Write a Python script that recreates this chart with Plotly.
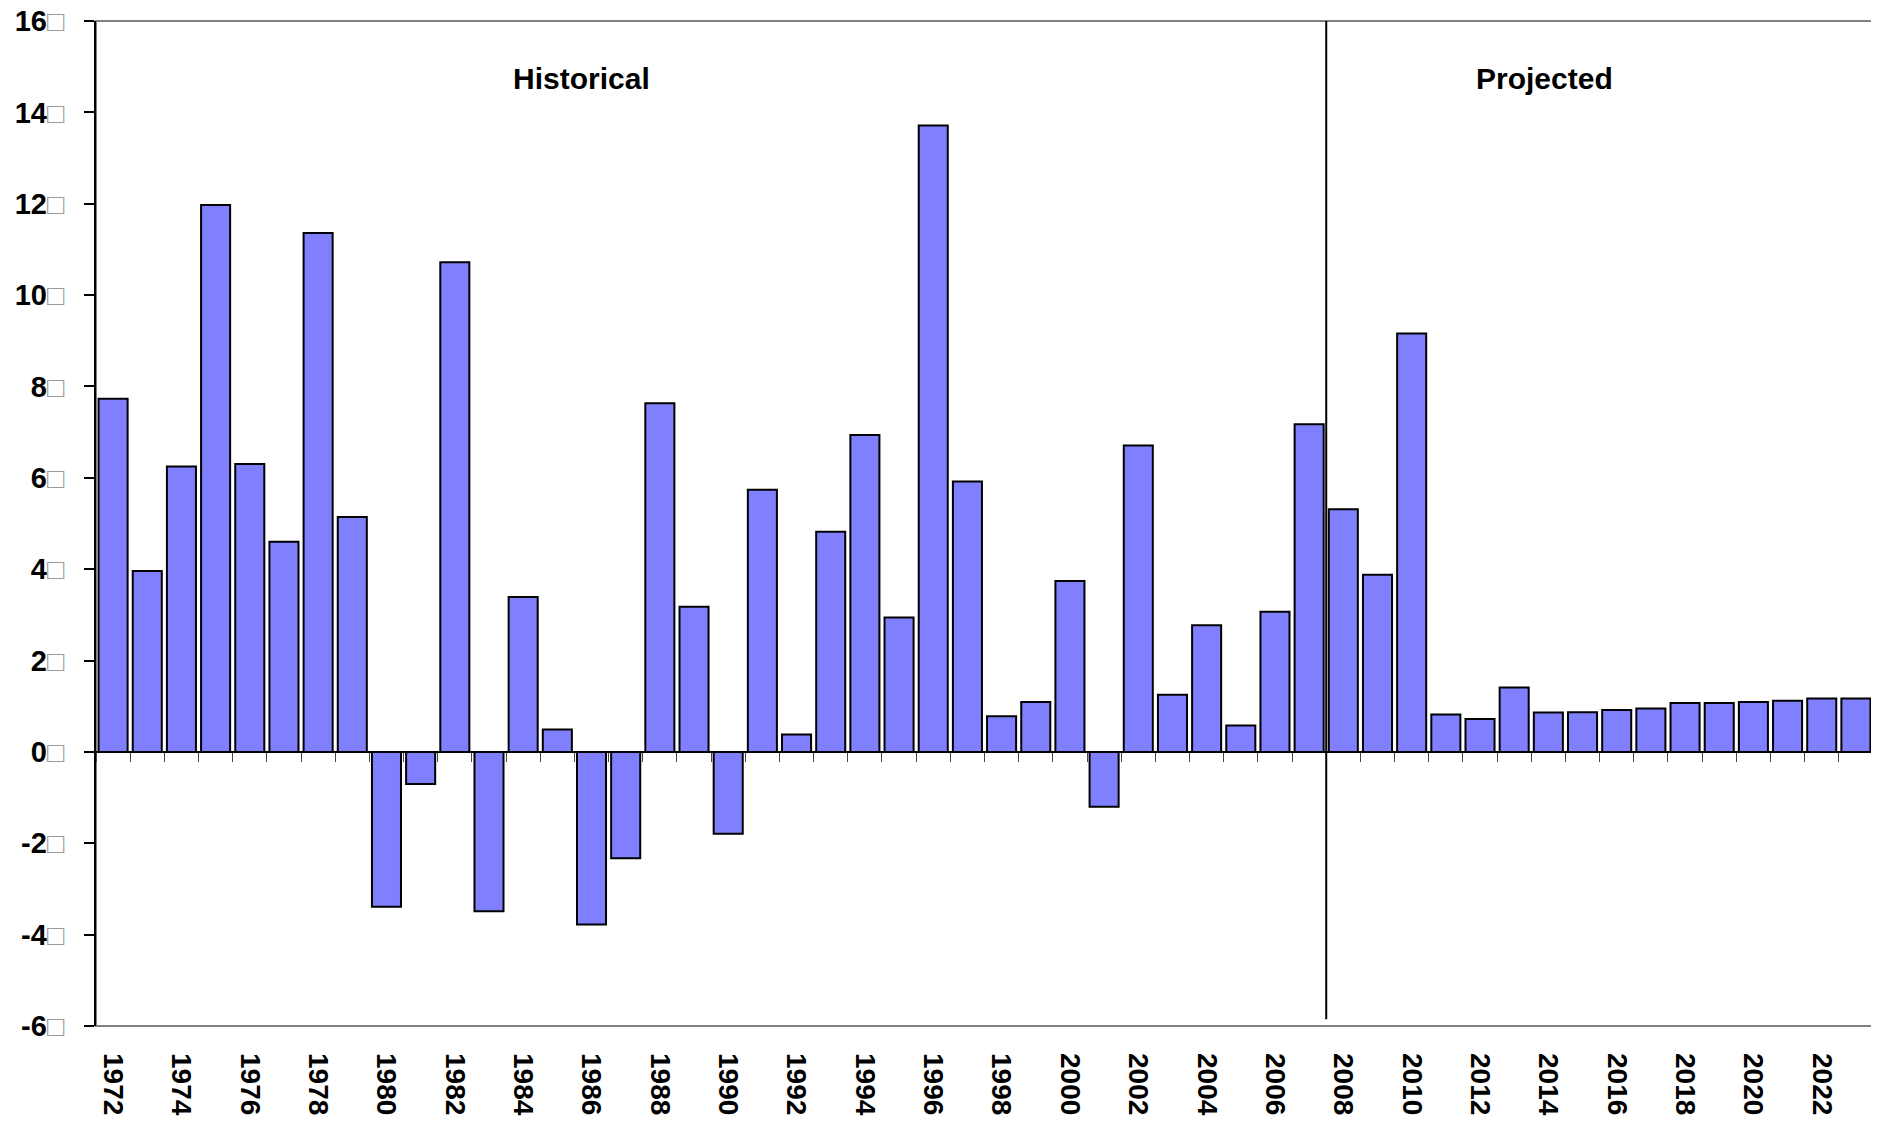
import plotly.graph_objects as go

# ── Data ────────────────────────────────────────────────────────────────────
YEARS = list(range(1972, 2024))
HISTORICAL = [7.73, 3.96, 6.25, 11.97, 6.30, 4.60, 11.36, 5.14, -3.39, -0.70,
              10.72, -3.49, 3.39, 0.49, -3.78, -2.33, 7.63, 3.18, -1.79, 5.74,
              0.38, 4.82, 6.94, 2.94, 13.71, 5.92, 0.78, 1.09, 3.74, -1.20,
              6.71, 1.25, 2.77, 0.58, 3.07, 7.17]          # 1972-2007
PROJECTED = [5.31, 3.88, 9.16, 0.82, 0.72, 1.41, 0.86, 0.87,
             0.92, 0.95, 1.07, 1.07, 1.09, 1.12, 1.17, 1.17]  # 2008-2023
Y_TICKS = [-6, -4, -2, 0, 2, 4, 6, 8, 10, 12, 14, 16]
SECTION_LABELS = ["Historical", "Projected"]
SECTION_LABEL_X = [1985.7, 2013.9]

VALUES = HISTORICAL + PROJECTED
FONT = "Liberation Sans, Arial, sans-serif"
BAR_COLOR = "#8080FF"

x_lo, x_hi = YEARS[0] - 0.5, YEARS[-1] + 0.5
split = YEARS[len(HISTORICAL)] - 0.5
y_lo, y_hi = Y_TICKS[0], Y_TICKS[-1]

fig = go.Figure()
fig.add_trace(go.Bar(
    x=YEARS, y=VALUES,
    marker={"color": BAR_COLOR, "line": {"color": "black", "width": 2}},
    hovertemplate="%{x}: %{y:.2f}<extra></extra>",
))
# carrier trace so the label axis gets drawn
fig.add_trace(go.Scatter(x=YEARS, y=[None] * len(YEARS), xaxis="x2",
                         hoverinfo="skip", showlegend=False))

box = "<span style='color:#9a9a9a;font-weight:normal'>\u25a1</span>"

# page body adds ~8px, so the figure is a touch smaller than the window
fig.update_layout(
    width=1871, height=1115,
    margin={"l": 88, "r": 6, "t": 13, "b": 97},
    paper_bgcolor="white", plot_bgcolor="white",
    font={"family": FONT, "color": "black"},
    showlegend=False,
    bargap=0.15,
    # axis with the ticks, sitting on the zero line
    xaxis={
        "range": [x_lo, x_hi],
        "anchor": "free",
        "position": (0 - y_lo) / (y_hi - y_lo),
        "tickvals": [y - 0.5 for y in YEARS] + [x_hi],
        "ticks": "outside", "ticklen": 9, "tickcolor": "#444", "tickwidth": 1,
        "showticklabels": False,
        "showline": True, "linecolor": "black", "linewidth": 2,
        "showgrid": False, "zeroline": False, "automargin": False,
    },
    # axis carrying the year labels, at the bottom of the plot
    xaxis2={
        "overlaying": "x", "anchor": "y", "side": "bottom",
        "range": [x_lo, x_hi],
        "tickvals": YEARS[::2],
        "ticktext": [str(y) for y in YEARS[::2]],
        "tickangle": 90,
        "tickfont": {"size": 28, "weight": "bold", "family": FONT},
        "ticks": "", "ticklabelstandoff": 26,
        "ticklabeloverflow": "allow", "automargin": False,
        "showline": False, "showgrid": False, "zeroline": False,
    },
    yaxis={
        "range": [y_lo, y_hi],
        "tickvals": Y_TICKS,
        "ticktext": [f"{t}{box}" for t in Y_TICKS],
        "tickfont": {"size": 29, "weight": "bold", "family": FONT},
        "ticks": "outside", "ticklen": 10, "tickcolor": "black", "tickwidth": 1.5,
        "ticklabelstandoff": 14,
        "ticklabeloverflow": "allow", "automargin": False,
        "showline": True, "linecolor": "black", "linewidth": 1.5,
        "showgrid": False, "zeroline": False,
    },
)

# plot frame (grey) and the historical / projected divider
fig.add_shape(type="rect", xref="x domain", yref="y domain",
              x0=0, x1=1, y0=0, y1=1,
              line={"color": "#808080", "width": 2}, layer="below")
fig.add_shape(type="line", xref="x", yref="y",
              x0=split, x1=split, y0=y_lo + 0.15, y1=y_hi,
              line={"color": "black", "width": 2})

for text, xpos in zip(SECTION_LABELS, SECTION_LABEL_X):
    fig.add_annotation(text=text, x=xpos, y=14.75, xref="x", yref="y",
                       showarrow=False,
                       font={"size": 30, "weight": "bold", "family": FONT, "color": "black"})

fig.write_html("out.html")
